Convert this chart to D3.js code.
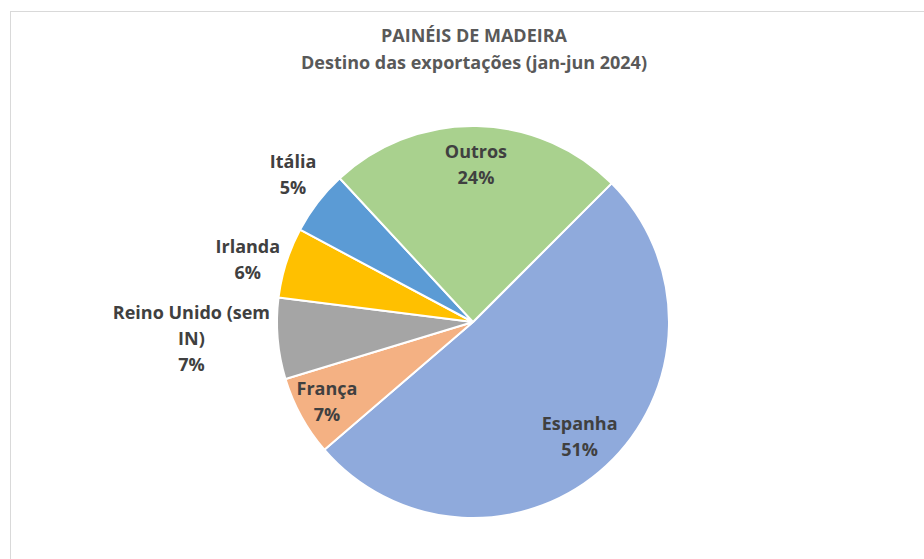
<!DOCTYPE html>
<html>
<head>
    <meta charset="utf-8">
    <title>Painéis de madeira</title>
    <script src="https://cdn.jsdelivr.net/npm/d3@7"></script>
    <style>
        body { margin: 0; background: #fff; }
        text { font-family: "Open Sans", Lato, sans-serif; font-weight: bold; }
    </style>
</head>
<body>
<script>
    // dados (jan-jun 2024), % do total
    const paises = ["Espanha", "França", "Reino Unido (sem IN)", "Irlanda", "Itália", "Outros"];
    const valores = [51.2, 6.6, 6.7, 5.8, 5.3, 24.4];
    const cores = ["#8faadc", "#f4b183", "#a5a5a5", "#ffc000", "#5b9bd5", "#a9d18e"];
    const titulo = ["PAINÉIS DE MADEIRA", "Destino das exportações (jan-jun 2024)"];

    const width = 924;
    const height = 559;
    const cx = 473, cy = 322, r = 196;

    const svg = d3.select('body')
        .append('svg')
        .attr('width', width)
        .attr('height', height);

    // moldura do gráfico
    svg.append('rect')
        .attr('x', 10.5).attr('y', 11.5)
        .attr('width', 940).attr('height', 600)
        .attr('fill', 'none')
        .attr('stroke', '#d9d9d9');

    svg.selectAll('.title')
        .data(titulo)
        .join('text')
        .attr('class', 'title')
        .attr('x', 474)
        .attr('y', (d, i) => 42 + i * 27)
        .attr('text-anchor', 'middle')
        .attr('font-size', 18)
        .attr('fill', '#595959')
        .text(d => d);

    const total = d3.sum(valores);
    const pie = d3.pie()
        .sort(null)
        .startAngle(Math.PI / 4)
        .endAngle(Math.PI / 4 + 2 * Math.PI);
    const arcs = pie(valores);

    const arc = d3.arc().innerRadius(0).outerRadius(r);

    const g = svg.append('g').attr('transform', `translate(${cx},${cy})`);

    g.selectAll('path')
        .data(arcs)
        .join('path')
        .attr('d', arc)
        .attr('fill', (d, i) => cores[i])
        .attr('stroke', '#fff')
        .attr('stroke-width', 2)
        .attr('stroke-linejoin', 'round');

    // quebra de linha dos rótulos como no Excel
    function linhas(nome, pct) {
        const out = [];
        if (nome.length > 16) {
            const k = nome.lastIndexOf(' ');
            out.push(nome.slice(0, k), nome.slice(k + 1));
        } else {
            out.push(nome);
        }
        out.push(pct + '%');
        return out;
    }

    const lh = 26;
    arcs.forEach((d, i) => {
        const pct = Math.round(valores[i] / total * 100);
        const ls = linhas(paises[i], pct);
        const t = g.append('text')
            .attr('font-size', 18)
            .attr('fill', '#404040')
            .attr('text-anchor', 'middle');
        ls.forEach((s, j) => t.append('tspan').attr('x', 0).attr('dy', j === 0 ? 0 : lh).text(s));
        const bb = t.node().getBBox();
        const w = bb.width, h = ls.length * lh;
        const a = (d.startAngle + d.endAngle) / 2;
        const span = d.endAngle - d.startAngle;
        const ri = span > 0.5 ? 0.8 : 0.85;
        const chord = 2 * ri * r * Math.sin(span / 2);
        let x, y;
        if (span > 0.38 && w < chord + 10) {
            x = Math.sin(a) * ri * r;
            y = -Math.cos(a) * ri * r;
        } else {
            const ro = r + 8;
            const c = Math.cos(a);
            x = Math.sin(a) * ro + Math.sin(a) * w / 2;
            y = -c * ro - (Math.abs(c) > 0.5 ? c * h * 0.7 : 0);
        }
        t.attr('transform', `translate(${x},${y - h / 2 + lh / 2 + 6})`);
    });
</script>
</body>
</html>
